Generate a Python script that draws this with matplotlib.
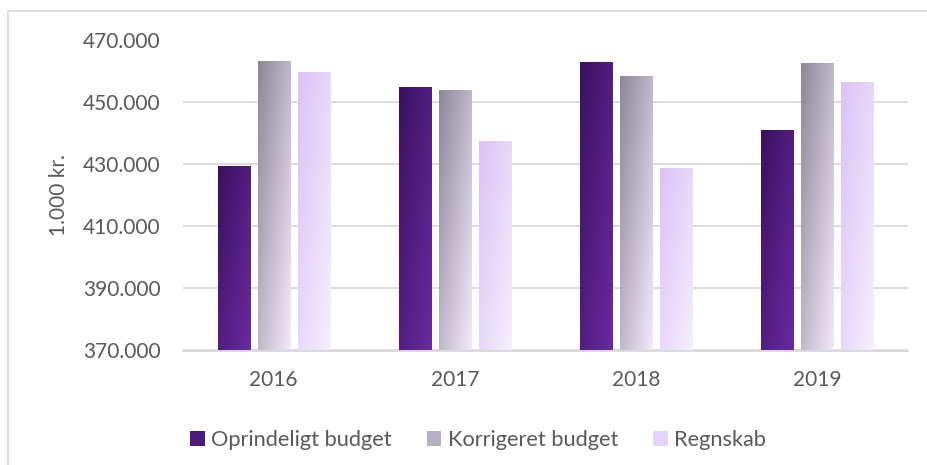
import numpy as np
import matplotlib
matplotlib.use("Agg")
import matplotlib.pyplot as plt
from matplotlib.colors import LinearSegmentedColormap
from matplotlib.patches import Patch
from matplotlib.lines import Line2D

# Values (1.000 kr.)
years = ["2016", "2017", "2018", "2019"]
oprindeligt = [429500, 455000, 463000, 441100]
korrigeret = [463400, 454000, 458600, 462700]
regnskab = [459800, 437600, 428900, 456600]

series_names = ["Oprindeligt budget", "Korrigeret budget", "Regnskab"]
series_values = [oprindeligt, korrigeret, regnskab]
# gradient start (top-left) / end (bottom-right) colours per series
gradients = [("#3a1160", "#6a2aa0"), ("#8d8797", "#f3e9fb"), ("#dbc2f6", "#f5effd")]
legend_colors = ["#4b1a7c", "#b7afc4", "#e3d2f9"]

text_color = "#595959"
grid_color = "#d9d9d9"

plt.rcParams['font.family'] = ['Lato', 'DejaVu Sans']

fig = plt.figure(figsize=(9.27, 4.65), dpi=100)
ax = fig.add_axes([183 / 927, 1 - 350.5 / 465, 725 / 927, 310 / 465])

x = np.arange(len(years))
bar_w = 32 / 181
step = 40 / 181

# gradient image, diagonal from top-left to bottom-right
u = np.linspace(0, 1, 64)
uu, vv = np.meshgrid(u, u)
grad = (uu + vv) / 2

for i, (vals, (c0, c1)) in enumerate(zip(series_values, gradients)):
    cmap = LinearSegmentedColormap.from_list("g%d" % i, [c0, c1])
    bars = ax.bar(x + (i - 1) * step, vals, width=bar_w, bottom=0, color="none",
                  edgecolor="none", zorder=3)
    for b in bars:
        x0, y0 = b.get_x(), b.get_y()
        x1, y1 = x0 + b.get_width(), y0 + b.get_height()
        im = ax.imshow(grad, cmap=cmap, extent=(x0, x1, 370000, y1), origin="upper",
                       aspect="auto", zorder=3, interpolation="bilinear")
        im.set_clip_path(b)

ax.set_xlim(-0.5, 3.5)
ax.set_ylim(370000, 470000)
ax.set_yticks(np.arange(370000, 470001, 20000))
ax.set_yticklabels([f"{v:,.0f}".replace(",", ".") for v in np.arange(370000, 470001, 20000)])
ax.set_xticks(x)
ax.set_xticklabels(years)

ax.grid(axis="y", color=grid_color, linewidth=1.3, zorder=0)
ax.set_axisbelow(True)
for s in ["top", "right", "left"]:
    ax.spines[s].set_visible(False)
ax.spines["bottom"].set_color(grid_color)
ax.spines["bottom"].set_linewidth(1.3)

ax.tick_params(axis="y", length=0, pad=16, labelsize=15, labelcolor=text_color)
ax.tick_params(axis="x", length=0, pad=14, labelsize=15, labelcolor=text_color)

ax.set_ylabel("1.000 kr.", fontsize=15, color=text_color, labelpad=10)

handles = [Patch(facecolor=c, edgecolor="none") for c in legend_colors]
fig.legend(handles, series_names, loc="center", bbox_to_anchor=(478 / 927, 1 - 440 / 465),
           ncol=3, frameon=False, fontsize=15.7, labelcolor=text_color,
           handlelength=0.67, handleheight=0.67, handletextpad=0.3, columnspacing=1.6)

# chart area border (left and top edges visible)
fig.add_artist(Line2D([8 / 927, 8 / 927, 1], [0, 1 - 11 / 465, 1 - 11 / 465],
                      transform=fig.transFigure, color=grid_color, linewidth=1.2))

fig.savefig("out.png", dpi=100, facecolor="white")
